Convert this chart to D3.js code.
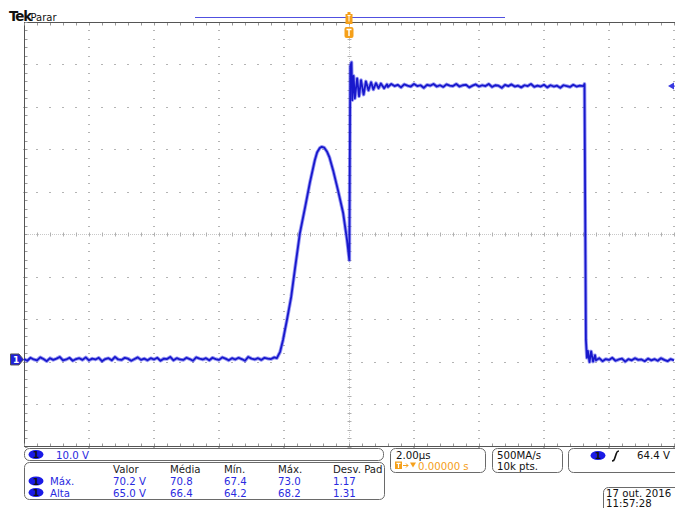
<!DOCTYPE html>
<html><head><meta charset="utf-8">
<script src="https://cdn.jsdelivr.net/npm/d3@7"></script>
<style>
html,body{margin:0;padding:0;background:#fff;}
svg{display:block;font-family:'DejaVu Sans',sans-serif;}
</style>
</head><body>
<svg id="c" width="675" height="508"></svg>
<script>
// ---------------- DATA ----------------
const timeDomainUs = [-10, 10];          // 2.00 µs/div, 10 divisions, trigger at centre
const voltDomain = [-20.5, 79.5];        // 10.0 V/div, 10 divisions, ground marker offset
const sampleStepUs = 0.1;

const baselineBeforeStartUs = -10.0;
const baselineBeforeV = [0.1,-0.3,0.4,0.0,-0.2,0.5,0.1,-0.4,0.3,-0.1,0.2,0.6,-0.2,0.0,0.4,-0.3,0.1,0.3,-0.1,0.5,
 -0.2,0.2,0.0,0.4,-0.4,0.1,0.3,-0.2,0.6,0.0,-0.1,0.4,0.2,-0.3,0.1,0.5,-0.1,0.2,-0.2,0.3,
 0.0,0.4,-0.3,0.2,0.1,0.6,-0.2,0.3,0.0,-0.1,0.4,0.1,-0.3,0.5,0.2,0.0,0.3,-0.2,0.4,0.1,
 -0.1,0.5,0.2,-0.2,0.3,0.0,0.4,0.1,-0.3,0.6,0.2,0.0,0.3,-0.1,0.4,0.2,0.1,0.5];

const pulseEdgeT = [-2.22,-2.12,-2.03,-1.91,-1.78,-1.66,-1.51,-1.35,-1.20,-1.05,-0.98,-0.90,-0.84,-0.76,-0.68,-0.60,-0.49,-0.34,-0.18,-0.06,0.01,
 0.04,0.077,0.10,0.14,0.18,0.25,0.31,0.37,0.45,0.52,0.60,0.68,0.75,0.83,0.91,0.98,1.08,1.17];
const pulseEdgeV = [0.3,1.8,4.6,9.3,14.7,21.5,29.8,35.9,41.8,47.0,48.8,49.8,50.1,49.9,49.0,47.6,44.6,39.9,34.5,28.1,23.4,
 69.1,70.0,61.1,66.8,61.5,66.2,62.0,65.8,62.4,65.5,63.4,65.3,63.6,65.1,63.9,65.0,63.9,64.8];

const plateauStartUs = 1.2;
const plateauV = [64.2,64.9,64.4,64.7,64.1,64.8,64.5,64.3,64.9,64.4,
 64.6,64.0,64.7,64.5,64.9,64.3,64.6,64.2,64.8,64.5,
 64.4,64.9,64.3,64.6,64.7,64.1,64.5,64.8,64.3,64.6,
 64.4,64.9,64.2,64.6,64.5,64.0,64.7,64.4,64.8,64.3,
 64.5,64.1,64.6,64.4,64.9,64.2,64.5,64.3,64.7,64.1,
 64.6,64.3,64.5,64.0,64.6,64.4,64.2,64.7,64.3,64.5];

const fallEdgeT = [7.215,7.246,7.29,7.32,7.35,7.40,7.45,7.51,7.57];
const fallEdgeV = [64.4,64.9,4.6,0.4,2.0,-0.6,1.9,-0.5,1.0];

const baselineAfterStartUs = 7.6;
const baselineAfterV = [-0.2,0.3,-0.4,0.1,-0.1,0.4,-0.3,0.0,0.2,-0.5,0.1,-0.2,0.3,-0.1,0.0,-0.4,0.2,-0.2,0.1,-0.3,0.3,-0.1,-0.4,0.1,-0.2];

const measureHeaders = ["Valor","Média","Mín.","Máx.","Desv. Pad"];
const measureNames = ["Máx.","Alta"];
const measureRows = [["70.2 V","70.8","67.4","73.0","1.17"],["65.0 V","66.4","64.2","68.2","1.31"]];
const chScaleLabel = "10.0 V";
const timebaseLabel = "2.00µs";
const triggerPosLabel = "0.00000 s";
const sampleLabels = ["500MA/s","10k pts."];
const triggerLevelLabel = "64.4 V";
const triggerLevelV = 64.4;
const dateLabels = ["17 out. 2016","11:57:28"];

// ---------------- BUILD ----------------
const svg = d3.select("#c");
const X0=24, X1=674, Y0=22, Y1=446.5;
const x = d3.scaleLinear().domain(timeDomainUs).range([X0,X1]);
const y = d3.scaleLinear().domain(voltDomain).range([Y1,Y0]);
const divX = d3.scaleLinear().domain([0,10]).range([X0,X1]);
const divY = d3.scaleLinear().domain([0,10]).range([Y0,Y1]);

const pts = [];
baselineBeforeV.forEach((v,i)=>pts.push([baselineBeforeStartUs+i*sampleStepUs, v]));
pulseEdgeT.forEach((t,i)=>pts.push([t, pulseEdgeV[i]]));
plateauV.forEach((v,i)=>pts.push([plateauStartUs+i*sampleStepUs, v]));
fallEdgeT.forEach((t,i)=>pts.push([t, fallEdgeV[i]]));
baselineAfterV.forEach((v,i)=>pts.push([baselineAfterStartUs+i*sampleStepUs, v]));

const g = svg.append("g");
const dotCol = "#b4b4b4";
d3.range(1,11).forEach(k=>{
  if(k===5) return;
  d3.range(0,51).forEach(j=>{
    g.append("rect").attr("x",Math.round(divX(k))-1).attr("y",Math.round(divY(j/5))).attr("width",2).attr("height",1).attr("fill",dotCol);
  });
});
d3.range(1,10).forEach(k=>{
  if(k===5) return;
  d3.range(0,51).forEach(j=>{
    g.append("rect").attr("x",Math.round(divX(j/5))-1).attr("y",Math.round(divY(k))).attr("width",2).attr("height",1).attr("fill",dotCol);
  });
});
const cx = Math.round(divX(5))+0.5, cy = Math.round(divY(5))+0.5;
g.append("line").attr("x1",X0).attr("x2",X1).attr("y1",cy).attr("y2",cy).attr("stroke","#c8c8c8").attr("stroke-dasharray","1,1");
g.append("line").attr("x1",cx).attr("x2",cx).attr("y1",Y0).attr("y2",Y1).attr("stroke","#c8c8c8").attr("stroke-dasharray","1,1");
d3.range(0,51).forEach(j=>{
  const xx = Math.round(divX(j/5))+0.5;
  g.append("line").attr("x1",xx).attr("x2",xx).attr("y1",cy-2).attr("y2",cy+2).attr("stroke","#b0b0b0");
  const yy = Math.round(divY(j/5))+0.5;
  g.append("line").attr("x1",cx-2).attr("x2",cx+2).attr("y1",yy).attr("y2",yy).attr("stroke","#b0b0b0");
});
const bc = "#555";
g.append("line").attr("x1",X0+0.5).attr("x2",X0+0.5).attr("y1",Y0).attr("y2",Y1).attr("stroke",bc);
g.append("line").attr("x1",X0).attr("x2",675).attr("y1",Y0+0.5).attr("y2",Y0+0.5).attr("stroke",bc);
g.append("line").attr("x1",X0).attr("x2",675).attr("y1",Y1).attr("y2",Y1).attr("stroke",bc);
d3.range(0,51).forEach(j=>{
  const xx = Math.round(divX(j/5))+0.5;
  g.append("line").attr("x1",xx).attr("x2",xx).attr("y1",Y0+1).attr("y2",Y0+3.5).attr("stroke","#999");
  g.append("line").attr("x1",xx).attr("x2",xx).attr("y1",Y1-3).attr("y2",Y1-0.5).attr("stroke","#999");
  const yy = Math.round(divY(j/5))+0.5;
  g.append("line").attr("x1",X0+1).attr("x2",X0+3.5).attr("y1",yy).attr("y2",yy).attr("stroke","#999");
});

// waveform
const line = d3.line().x(d=>x(d[0])).y(d=>y(d[1]));
svg.append("path").datum(pts).attr("d",line).attr("fill","none").attr("stroke","#4646ea").attr("stroke-width",3.6).attr("stroke-opacity",0.55).attr("stroke-linejoin","round");
svg.append("path").datum(pts).attr("d",line).attr("fill","none").attr("stroke","#1818cc").attr("stroke-width",1.8).attr("stroke-linejoin","round");

// top header
svg.append("text").attr("x",9).attr("y",21).attr("font-size",13.5).attr("font-weight","bold").attr("letter-spacing",-1.2).attr("fill","#111").text("Tek");
svg.append("text").attr("x",30.5).attr("y",20.5).attr("font-size",10).attr("fill","#111").text("Parar");
svg.append("line").attr("x1",195).attr("x2",505).attr("y1",17.5).attr("y2",17.5).attr("stroke","#5050e0");
const tx = x(0);
const orange = "#f5a01a";
svg.append("path").attr("d",`M${tx-1.5},12 h3 v2 h2 v10 h-7 v-10 h2 z`).attr("fill",orange);
svg.append("path").attr("d",`M${tx-1.5},15.5 h3 M${tx},15.5 v6`).attr("stroke","#fff").attr("stroke-width",1);
svg.append("rect").attr("x",tx-4.5).attr("y",27).attr("width",9).attr("height",11).attr("rx",2).attr("fill",orange);
svg.append("path").attr("d",`M${tx-2.5},29.5 h5 M${tx},29.5 v6.5`).attr("stroke","#fff").attr("stroke-width",1.5);

const ty = y(triggerLevelV);
svg.append("path").attr("d",`M668,${ty} L674,${ty-3.5} L674,${ty+3.5} Z`).attr("fill","#3a3ae0");
svg.append("line").attr("x1",670).attr("x2",675).attr("y1",ty).attr("y2",ty).attr("stroke","#3a3ae0");

const gy = y(0);
svg.append("path").attr("d",`M10.5,${gy-5.5} H19 L23.5,${gy} L19,${gy+5.5} H10.5 Z`).attr("fill","#2020d8").attr("stroke","#555");
svg.append("text").attr("x",13).attr("y",gy+4).attr("font-size",9).attr("font-weight","bold").attr("fill","#fff").text("1");

const boxStroke = "#6a6a6a";
function box(x0,y0,w,h){svg.append("rect").attr("x",x0+0.5).attr("y",y0+0.5).attr("width",w).attr("height",h).attr("rx",5).attr("fill","#fff").attr("stroke",boxStroke);}
function chip(cx0,cy0){
  svg.append("ellipse").attr("cx",cx0).attr("cy",cy0).attr("rx",7.5).attr("ry",4.6).attr("fill","#1a1ae6");
  svg.append("text").attr("x",cx0).attr("y",cy0+3.6).attr("text-anchor","middle").attr("font-size",9.5).attr("font-weight","bold").attr("fill","#111").text("1");
}
const fs = 10.2, blue="#2a2ae0";
box(24,448,359,12);
chip(36,454.5);
svg.append("text").attr("x",56).attr("y",458.5).attr("font-size",fs).attr("fill",blue).text(chScaleLabel);

box(24,462,360,37);
const colX = [113,170,224,278,333];
measureHeaders.forEach((h,i)=>svg.append("text").attr("x",colX[i]).attr("y",472.5).attr("font-size",fs).attr("fill","#222").text(h));
measureNames.forEach((n,r)=>{
  const yy = 485+r*11.5;
  chip(36,yy-4);
  svg.append("text").attr("x",50).attr("y",yy).attr("font-size",fs).attr("fill",blue).text(n);
  measureRows[r].forEach((v,i)=>svg.append("text").attr("x",colX[i]).attr("y",yy).attr("font-size",fs).attr("fill",blue).text(v));
});

box(390,448,95,24);
svg.append("text").attr("x",396).attr("y",458.5).attr("font-size",fs).attr("fill","#111").text(timebaseLabel);
svg.append("rect").attr("x",395).attr("y",461.5).attr("width",7).attr("height",7.5).attr("fill",orange);
svg.append("path").attr("d","M396.5,463.3 h4 M398.5,463.3 v4.6").attr("stroke","#fff").attr("stroke-width",1.2);
svg.append("path").attr("d","M403,465.5 h5 M406,463.5 l2,2 l-2,2").attr("stroke",orange).attr("fill","none").attr("stroke-width",1);
svg.append("path").attr("d","M410,462.5 h6 l-3,5 z").attr("fill",orange);
svg.append("text").attr("x",418).attr("y",469.5).attr("font-size",fs).attr("fill",orange).text(triggerPosLabel);

box(492,448,70,24);
sampleLabels.forEach((s,i)=>svg.append("text").attr("x",497).attr("y",458.5+i*11).attr("font-size",fs).attr("fill","#111").text(s));

box(568,448,112,24);
chip(598,455.5);
svg.append("path").attr("d","M612,461 q2,0 2.5,-2 l2,-6 q0.6,-2 2.5,-2").attr("stroke","#111").attr("stroke-width",1.6).attr("fill","none");
svg.append("text").attr("x",637).attr("y",459).attr("font-size",fs).attr("fill","#111").text(triggerLevelLabel);

box(603,487,80,30);
dateLabels.forEach((s,i)=>svg.append("text").attr("x",606).attr("y",496.5+i*10.5).attr("font-size",fs).attr("fill","#111").text(s));
</script>
</body></html>
